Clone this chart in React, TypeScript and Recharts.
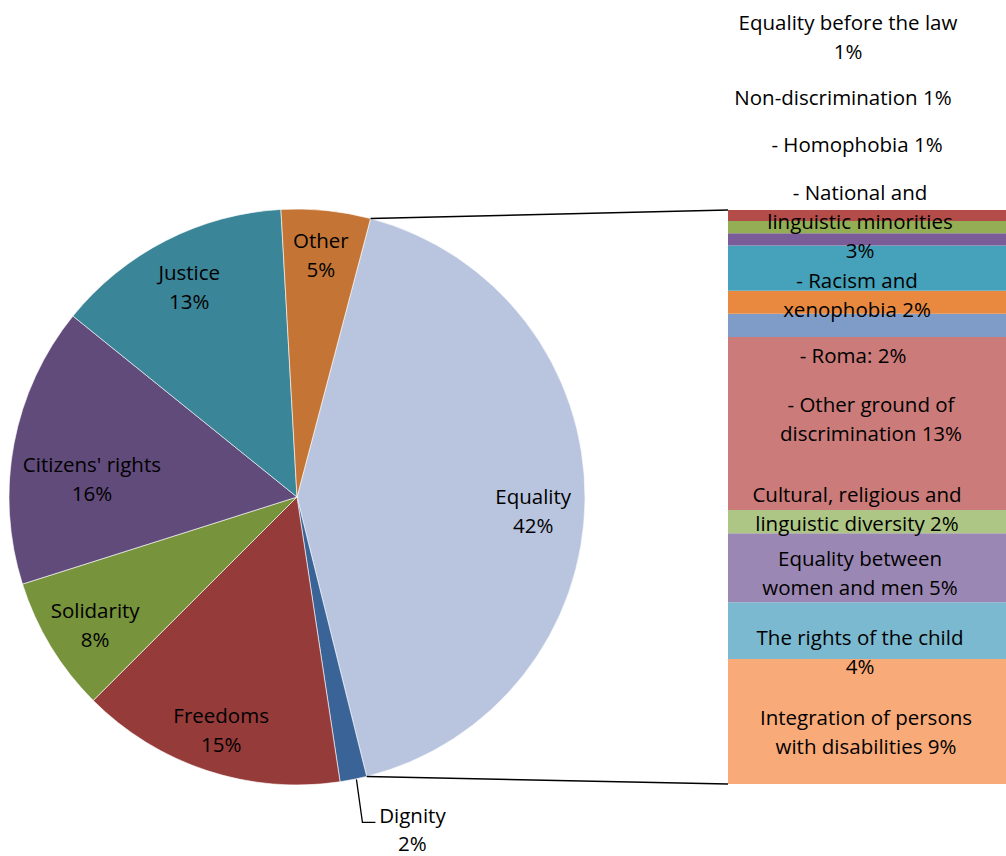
import React from "react";
import { PieChart, Pie, Cell, BarChart, Bar, XAxis, YAxis } from "recharts";

// main pie, clockwise from the Other/Equality edge
const pieNames = ["Equality", "Dignity", "Freedoms", "Solidarity", "Citizens' rights", "Justice", "Other"];
const pieValues = [42, 1.5, 14.9, 7.6, 15.7, 13.3, 5];
const pieLabels = ["42%", "2%", "15%", "8%", "16%", "13%", "5%"];
const pieColors = ["#B9C5DF", "#3A6497", "#953B39", "#77933C", "#604B7B", "#3A8598", "#C47535"];

// breakdown of Equality, top to bottom of the column
const subNames = [
  "Equality before the law",
  "Non-discrimination",
  "Homophobia",
  "National and linguistic minorities",
  "Racism and xenophobia",
  "Roma",
  "Other ground of discrimination",
  "Cultural, religious and linguistic diversity",
  "Equality between women and men",
  "The rights of the child",
  "Integration of persons with disabilities",
];
const subValues = [0.8, 0.9, 0.9, 3.3, 1.7, 1.7, 12.65, 1.7, 5.05, 4.15, 9.15];
const subColors = [
  "#B44C49", "#93AE55", "#7A5C98", "#46A2BA", "#E8893F", "#7F9CC8",
  "#CB7B79", "#AEC685", "#9B87B3", "#7AB9CF", "#F8AA78",
];
const subLabelLines = [
  ["Equality before the law", "1%"],
  ["Non-discrimination 1%"],
  ["- Homophobia 1%"],
  ["- National and", "linguistic minorities", "3%"],
  ["- Racism and", "xenophobia 2%"],
  ["- Roma: 2%"],
  ["- Other ground of", "discrimination 13%"],
  ["Cultural, religious and", "linguistic diversity 2%"],
  ["Equality between", "women and men 5%"],
  ["The rights of the child", "4%"],
  ["Integration of persons", "with disabilities 9%"],
];

// layout
const W = 1006;
const H = 856;
const CX = 297;
const CY = 497;
const R = 288;
const START = 75.2; // Other/Equality edge, degrees (recharts convention)
const BAR_X = 728;
const BAR_TOP = 210;
const BAR_W = W - BAR_X;
const BAR_H = 574;
const FONT = "'Open Sans', 'Noto Sans', sans-serif";
const FS = 20.5;
const LINE = 29;
const subLabelPos: [number, number][] = [
  [848, 22], [843, 97], [857, 144], [860, 192], [857, 280], [853, 355],
  [871, 404], [857, 494], [860, 558], [860, 637], [866, 717],
];
const pieLabelNudge: Record<string, [number, number]> = {
  "Citizens' rights": [27, 25],
  Equality: [0, 12],
  Freedoms: [-2, 8],
  Other: [0, -8],
  Solidarity: [0, 5],
};

const RAD = Math.PI / 180;
const total = pieValues.reduce((a, b) => a + b, 0);
const equalitySweep = (pieValues[0] / total) * 360;
const subTotal = subValues.reduce((a, b) => a + b, 0);

const pieData = pieNames.map((name, i) => ({ name, value: pieValues[i], pct: pieLabels[i] }));
const barRow: Record<string, number | string> = { name: "Equality" };
subNames.forEach((n, i) => {
  barRow[`s${i}`] = subValues[i];
});

function PieLabel(props: any) {
  const { cx, cy, midAngle, outerRadius, index } = props;
  const name = pieNames[index];
  const cos = Math.cos(-midAngle * RAD);
  const sin = Math.sin(-midAngle * RAD);
  if (name === "Dignity") {
    const px = cx + outerRadius * cos;
    const py = cy + outerRadius * sin;
    const ly = py + 43;
    return (
      <g>
        <polyline
          points={`${px + 3},${py} ${px + 9},${ly} ${px + 22},${ly}`}
          fill="none"
          stroke="#000"
          strokeWidth={1.3}
        />
        <text x={px + 59} y={ly - 7} textAnchor="middle" dominantBaseline="central" fontFamily={FONT} fontSize={FS} fill="#000">
          {name}
        </text>
        <text x={px + 59} y={ly + 21} textAnchor="middle" dominantBaseline="central" fontFamily={FONT} fontSize={FS} fill="#000">
          {pieLabels[index]}
        </text>
      </g>
    );
  }
  const r = outerRadius * 0.82;
  const nudge = pieLabelNudge[name] || [0, 0];
  const x = cx + r * cos + nudge[0];
  const y = cy + r * sin + nudge[1];
  return (
    <g>
      <text x={x} y={y - LINE / 2} textAnchor="middle" dominantBaseline="central" fontFamily={FONT} fontSize={FS} fill="#000">
        {name}
      </text>
      <text x={x} y={y + LINE / 2} textAnchor="middle" dominantBaseline="central" fontFamily={FONT} fontSize={FS} fill="#000">
        {pieLabels[index]}
      </text>
    </g>
  );
}

export default function App() {
  const a0 = START * RAD;
  const a1 = (START - equalitySweep) * RAD;
  const p0 = [CX + R * Math.cos(a0), CY - R * Math.sin(a0)];
  const p1 = [CX + R * Math.cos(a1), CY - R * Math.sin(a1)];
  return (
    <div style={{ position: "relative", width: W, height: H, background: "#fff" }}>
      <style>{"body{margin:0}"}</style>
      <div style={{ position: "absolute", left: 0, top: 0 }}>
        <PieChart width={W} height={H} margin={{ top: 0, right: 0, bottom: 0, left: 0 }}>
          <Pie
            data={pieData}
            dataKey="value"
            nameKey="name"
            cx={CX}
            cy={CY}
            outerRadius={R}
            startAngle={START}
            endAngle={START - 360}
            stroke="#ffffff"
            strokeWidth={0.6}
            label={PieLabel}
            labelLine={false}
            isAnimationActive={false}
          >
            {pieData.map((d, i) => (
              <Cell key={d.name} fill={pieColors[i]} />
            ))}
          </Pie>
        </PieChart>
      </div>
      <div style={{ position: "absolute", left: BAR_X, top: BAR_TOP }}>
        <BarChart
          width={BAR_W}
          height={BAR_H}
          data={[barRow]}
          margin={{ top: 0, right: 0, bottom: 0, left: 0 }}
          barCategoryGap={0}
        >
          <XAxis dataKey="name" hide />
          <YAxis type="number" domain={[0, subTotal]} hide />
          {subNames
            .map((n, i) => i)
            .reverse()
            .map((i) => (
              <Bar key={subNames[i]} dataKey={`s${i}`} stackId="eq" fill={subColors[i]} isAnimationActive={false} />
            ))}
        </BarChart>
      </div>
      <svg width={W} height={H} style={{ position: "absolute", left: 0, top: 0, pointerEvents: "none" }}>
        <line x1={p0[0]} y1={p0[1]} x2={BAR_X} y2={BAR_TOP} stroke="#000" strokeWidth={1.5} />
        <line x1={p1[0]} y1={p1[1]} x2={BAR_X} y2={BAR_TOP + BAR_H} stroke="#000" strokeWidth={1.5} />
        {subLabelLines.map((lines, i) =>
          lines.map((t, j) => (
            <text
              key={`${i}-${j}`}
              x={subLabelPos[i][0]}
              y={subLabelPos[i][1] + j * LINE}
              textAnchor="middle"
              dominantBaseline="central"
              fontFamily={FONT}
              fontSize={FS}
              fill="#000"
            >
              {t}
            </text>
          ))
        )}
      </svg>
    </div>
  );
}
